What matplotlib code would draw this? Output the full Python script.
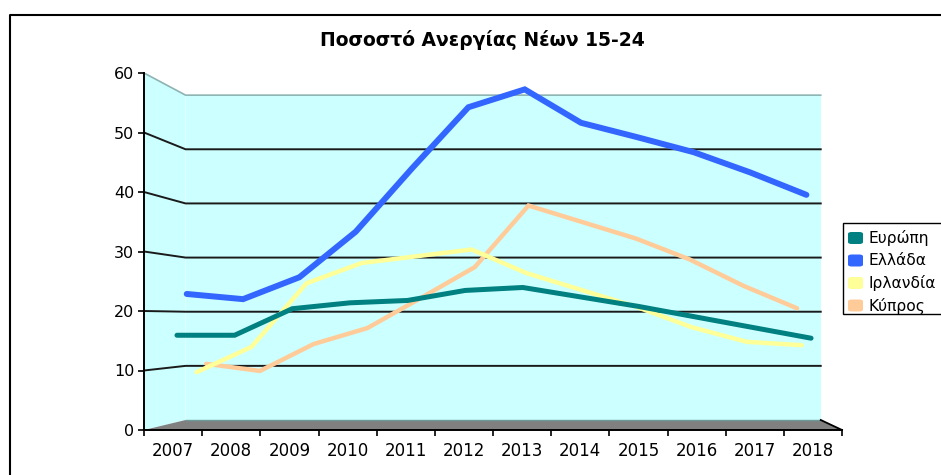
import numpy as np
import matplotlib
matplotlib.use('Agg')
import matplotlib.pyplot as plt
from matplotlib.patches import Polygon, Rectangle, FancyBboxPatch
from matplotlib.lines import Line2D

plt.rcParams['font.family'] = ['DejaVu Sans']

years = ['2007', '2008', '2009', '2010', '2011', '2012',
         '2013', '2014', '2015', '2016', '2017', '2018']
names = ['Ευρώπη', 'Ελλάδα', 'Ιρλανδία', 'Κύπρος']
europe = [15.9, 15.9, 20.4, 21.4, 21.8, 23.5, 24.0, 22.4, 20.8, 19.0, 17.2, 15.4]
greece = [23.0, 22.1, 25.9, 33.8, 44.8, 55.4, 58.5, 52.7, 50.2, 47.6, 44.1, 40.2]
ireland = [9.2, 13.7, 25.0, 28.6, 29.8, 31.0, 26.8, 23.8, 20.8, 17.2, 14.6, 14.0]
cyprus = [10.5, 9.2, 14.1, 17.0, 22.5, 28.1, 39.3, 36.3, 33.3, 29.5, 24.7, 20.6]
colors = ['#008080', '#3366FF', '#FFFF99', '#FFCC99']
widths = [3.6, 4.3, 3.2, 3.2]
depths = [0.1, 0.35, 0.6, 0.85]   # series depth in the fake 3d box

# perspective toward a vanishing point, back wall shrunk by k
k = 0.09
xc, vc = 7.44, 18.66


def proj(x, v, d):
    s = 1 - k * np.asarray(d, dtype=float)
    x = np.asarray(x, dtype=float)
    v = np.asarray(v, dtype=float)
    return xc + (x - xc) * s, vc + (v - vc) * s


W, H = 941, 475
fig = plt.figure(figsize=(W / 100, H / 100), dpi=100)
ax = fig.add_axes([144 / W, (H - 430) / H, 698 / W, 357 / H])
ax.set_xlim(-0.5, 11.5)
ax.set_ylim(0, 60)
ax.patch.set_visible(False)

x0, x1 = -0.5, 11.5
wall_c = '#CCFFFF'

# side wall + back wall
px, py = proj([x0, x0, x0, x0], [0, 60, 60, 0], [0, 0, 1, 1])
ax.add_patch(Polygon(np.column_stack([px, py]), closed=True, fc=wall_c, ec='none', zorder=0))
px, py = proj([x0, x1, x1, x0], [0, 0, 60, 60], [1, 1, 1, 1])
ax.add_patch(Polygon(np.column_stack([px, py]), closed=True, fc=wall_c, ec='none', zorder=0))
px, py = proj([x0, x0, x1], [60, 60, 60], [0, 1, 1])
ax.plot(px, py, color='#8FB3B3', lw=1.2, zorder=1)

# gridlines
for v in range(10, 60, 10):
    px, py = proj([x0, x0, x1], [v, v, v], [0, 1, 1])
    ax.plot(px, py, color='#1A1A1A', lw=1.4, zorder=1)

# floor
px, py = proj([x0, x0, x1, x1], [0, 0, 0, 0], [0, 1, 1, 0])
ax.add_patch(Polygon(np.column_stack([px, py]), closed=True, fc='#808080',
                     ec='none', zorder=1, clip_on=False))
px, py = proj([x0, x1], [0, 0], [1, 1])
ax.plot(px, py, color='#6F9A9A', lw=1, zorder=1)
px, py = proj([x1, x1], [0, 0], [1, 0])
ax.plot(px, py, color='black', lw=1.3, zorder=3, clip_on=False)

# series, back to front
series = [europe, greece, ireland, cyprus]
xs = np.arange(len(years))
for i in reversed(range(len(series))):
    px, py = proj(xs, series[i], depths[i])
    ax.plot(px, py, color=colors[i], lw=widths[i], solid_capstyle='round',
            solid_joinstyle='miter', zorder=2)

# axes
for s in ['top', 'right']:
    ax.spines[s].set_visible(False)
for s in ['left', 'bottom']:
    ax.spines[s].set_linewidth(1.4)
    ax.spines[s].set_zorder(4)
ax.set_yticks(range(0, 61, 10))
ax.tick_params(axis='y', length=4, width=1.2, pad=3, labelsize=11.5)
ax.set_xticks(np.arange(-0.5, 12, 1))
ax.set_xticklabels([])
ax.tick_params(axis='x', which='major', length=4, width=1.2, direction='out')
ax.set_xticks(xs, labels=years, minor=True)
ax.tick_params(axis='x', which='minor', length=0, pad=9, labelsize=12)

fig.text(482 / W, 1 - 40 / H, 'Ποσοστό Ανεργίας Νέων 15-24', ha='center', va='center',
         fontsize=13.5, fontweight='bold')

# outer chart border (cut off at right and bottom)
fig.add_artist(Line2D([10 / W, 10 / W, 1.1], [-0.1, 1 - 15 / H, 1 - 15 / H],
                      transform=fig.transFigure, color='black', lw=1.5))

# legend box, partly outside the picture
lx, ly = 843, 223
fig.add_artist(Rectangle((lx / W, 1 - 314 / H), 130 / W, 91 / H, transform=fig.transFigure,
                         fc='white', ec='black', lw=1))
for i, n in enumerate(names):
    yc = 238 + i * 22.5
    fig.add_artist(FancyBboxPatch((848 / W, 1 - (yc + 6) / H), 15 / W, 12 / H,
                                  boxstyle='round,pad=0,rounding_size=0.004',
                                  transform=fig.transFigure, fc=colors[i], ec='none'))
    fig.text(868 / W, 1 - yc / H, n, ha='left', va='center', fontsize=11.2)

fig.savefig('out.png', dpi=100)
